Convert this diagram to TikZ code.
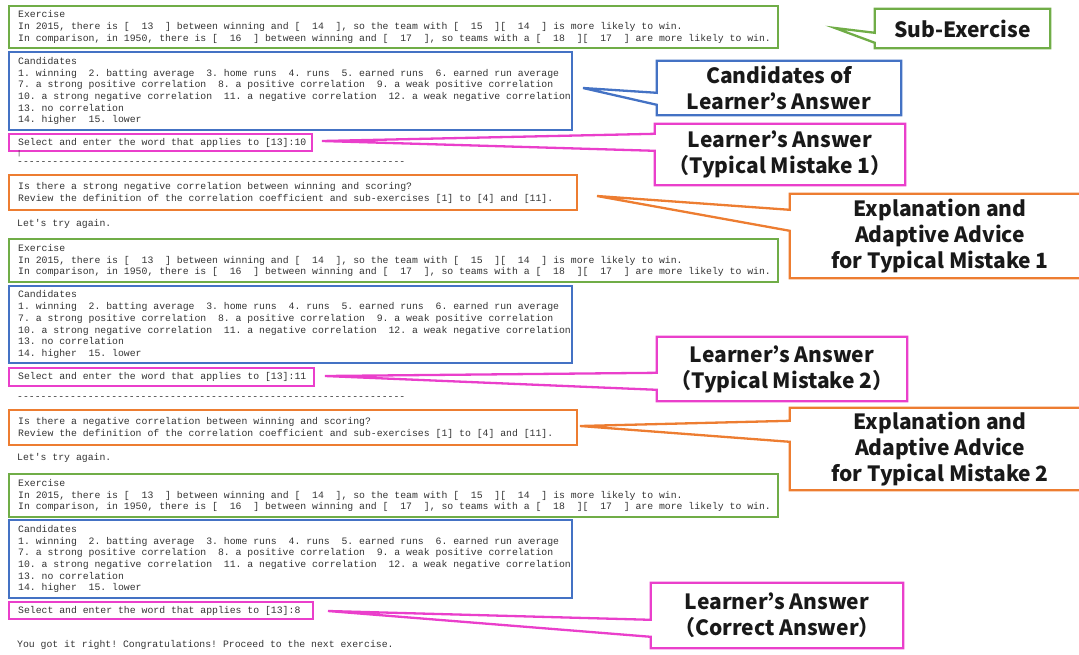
\documentclass[tikz,border=0pt]{standalone}
\usepackage{fontspec}
\usepackage{tikz}
\setmonofont{Liberation Mono}
\newfontfamily\callfont{Noto Sans CJK JP}
\definecolor{exgreen}{HTML}{70AD47}
\definecolor{candblue}{HTML}{4472C4}
\definecolor{ansmagenta}{HTML}{EA3FCB}
\definecolor{advorange}{HTML}{ED7D31}
\definecolor{scrtext}{HTML}{333333}
\tikzset{
  scrbox/.style={draw=#1, line width=2.3pt, anchor=north west, inner xsep=9pt, inner ysep=0pt,
    align=left, text=scrtext, font=\ttfamily\fontsize{9.8}{11.7}\selectfont,
    execute at begin node={\spaceskip=0pt\xspaceskip=0pt}},
  scrline/.style={anchor=west, inner sep=0pt, text=scrtext, font=\ttfamily\fontsize{9.8}{11.7}\selectfont},
  calltext/.style={inner sep=0pt, align=center, text=black!90,
    font=\callfont\bfseries\fontsize{21}{26}\selectfont},
  callline/.style={draw=#1, line width=2.3pt, line join=miter}
}

\begin{document}
\begin{tikzpicture}[x=1pt, y=-1pt]
  \useasboundingbox (0,0) rectangle (1079,654);
  \clip (0,0) rectangle (1079,654);
  % first try
  \node[scrbox=exgreen, text width=751pt, minimum height=42pt] (ex1) at (8,5)
    {Exercise\\\mbox{In 2015, there is [~~13~~] between winning and [~~14~~], so the team with [~~15~~][~~14~~] is more likely to win.}\\\mbox{In comparison, in 1950, there is [~~16~~] between winning and [~~17~~], so teams with a [~~18~~][~~17~~] are more likely to win.}};
  \node[scrbox=candblue, text width=545pt, minimum height=78pt] (cand1) at (8,51)
    {Candidates\\\mbox{1. winning~~2. batting average~~3. home runs~~4. runs~~5. earned runs~~6. earned run average}\\\mbox{7. a strong positive correlation~~8. a positive correlation~~9. a weak positive correlation}\\\mbox{10. a strong negative correlation~~11. a negative correlation~~12. a weak negative correlation}\\13. no correlation\\14. higher~~15. lower};
  \node[scrbox=ansmagenta, text width=285pt, minimum height=17pt] (ans1) at (8,133)
    {\mbox{Select and enter the word that applies to [13]:10}};
  \node[scrline, font=\ttfamily\fontsize{7}{8}\selectfont] (cursor1) at (17,154) {|};
  \node[scrline] (sep1) at (17,163.5) {------------------------------------------------------------------};
  \node[scrbox=advorange, text width=550pt, minimum height=35pt] (adv1) at (8,174)
    {\mbox{Is there a strong negative correlation between winning and scoring?}\\\mbox{Review the definition of the correlation coefficient and sub-exercises [1] to [4] and [11].}};
  \node[scrline] (retry1) at (17,224) {Let\textquotesingle s try again.};
  % second try
  \node[scrbox=exgreen, text width=751pt, minimum height=43pt] (ex2) at (8,238)
    {Exercise\\\mbox{In 2015, there is [~~13~~] between winning and [~~14~~], so the team with [~~15~~][~~14~~] is more likely to win.}\\\mbox{In comparison, in 1950, there is [~~16~~] between winning and [~~17~~], so teams with a [~~18~~][~~17~~] are more likely to win.}};
  \node[scrbox=candblue, text width=545pt, minimum height=77pt] (cand2) at (8,285)
    {Candidates\\\mbox{1. winning~~2. batting average~~3. home runs~~4. runs~~5. earned runs~~6. earned run average}\\\mbox{7. a strong positive correlation~~8. a positive correlation~~9. a weak positive correlation}\\\mbox{10. a strong negative correlation~~11. a negative correlation~~12. a weak negative correlation}\\13. no correlation\\14. higher~~15. lower};
  \node[scrbox=ansmagenta, text width=287pt, minimum height=18pt] (ans2) at (8,367)
    {\mbox{Select and enter the word that applies to [13]:11}};
  \node[scrline] (sep2) at (17,398) {------------------------------------------------------------------};
  \node[scrbox=advorange, text width=550pt, minimum height=35pt] (adv2) at (8,409)
    {\mbox{Is there a negative correlation between winning and scoring?}\\\mbox{Review the definition of the correlation coefficient and sub-exercises [1] to [4] and [11].}};
  \node[scrline] (retry2) at (17,458) {Let\textquotesingle s try again.};
  % third try
  \node[scrbox=exgreen, text width=751pt, minimum height=43pt] (ex3) at (8,473)
    {Exercise\\\mbox{In 2015, there is [~~13~~] between winning and [~~14~~], so the team with [~~15~~][~~14~~] is more likely to win.}\\\mbox{In comparison, in 1950, there is [~~16~~] between winning and [~~17~~], so teams with a [~~18~~][~~17~~] are more likely to win.}};
  \node[scrbox=candblue, text width=545pt, minimum height=78pt] (cand3) at (8,519)
    {Candidates\\\mbox{1. winning~~2. batting average~~3. home runs~~4. runs~~5. earned runs~~6. earned run average}\\\mbox{7. a strong positive correlation~~8. a positive correlation~~9. a weak positive correlation}\\\mbox{10. a strong negative correlation~~11. a negative correlation~~12. a weak negative correlation}\\13. no correlation\\14. higher~~15. lower};
  \node[scrbox=ansmagenta, text width=286pt, minimum height=17pt] (ans3) at (8,601)
    {\mbox{Select and enter the word that applies to [13]:8}};
  \node[scrline] (done) at (17,645) {You got it right! Congratulations! Proceed to the next exercise.};

  % callouts
  \node[calltext, minimum width=175pt, minimum height=39pt] (subex) at (962.5,28.5) {Sub-Exercise};
  \coordinate (subextip) at (835,28);
  \draw[callline=exgreen] (subex.north west) -- (subex.north east) -- (subex.south east) -- (subex.south west)
    -- ([yshift=-34pt]subex.north west) -- (subextip) -- ([yshift=-24pt]subex.north west) -- cycle;

  \node[calltext, minimum width=244pt, minimum height=54pt] (candcall) at (779,88) {Candidates of\\Learner’s Answer};
  \coordinate (candtip) at (583,88);
  \draw[callline=candblue] (candcall.north west) -- (candcall.north east) -- (candcall.south east) -- (candcall.south west)
    -- ([yshift=-44pt]candcall.north west) -- (candtip) -- ([yshift=-32pt]candcall.north west) -- cycle;

  \node[calltext, minimum width=250pt, minimum height=61pt] (mis1) at (780,154.5) {Learner’s Answer\\（Typical Mistake 1）};
  \coordinate (mis1tip) at (322,141);
  \draw[callline=ansmagenta] (mis1.north west) -- (mis1.north east) -- (mis1.south east) -- (mis1.south west)
    -- ([yshift=-27pt]mis1.north west) -- (mis1tip) -- ([yshift=-10pt]mis1.north west) -- cycle;

  \node[calltext, minimum width=300pt, minimum height=84pt] (adv1call) at (940,236) {Explanation and\\Adaptive Advice\\for Typical Mistake 1};
  \coordinate (adv1tip) at (597,196);
  \draw[callline=advorange] (adv1call.north west) -- (adv1call.north east) -- (adv1call.south east) -- (adv1call.south west)
    -- ([yshift=-37pt]adv1call.north west) -- (adv1tip) -- ([yshift=-16pt]adv1call.north west) -- cycle;

  \node[calltext, minimum width=250pt, minimum height=64pt] (mis2) at (782,369) {Learner’s Answer\\（Typical Mistake 2）};
  \coordinate (mis2tip) at (325,376);
  \draw[callline=ansmagenta] (mis2.north west) -- (mis2.north east) -- (mis2.south east) -- (mis2.south west)
    -- ([yshift=-53pt]mis2.north west) -- (mis2tip) -- ([yshift=-36pt]mis2.north west) -- cycle;

  \node[calltext, minimum width=300pt, minimum height=82pt] (adv2call) at (940,449) {Explanation and\\Adaptive Advice\\for Typical Mistake 2};
  \coordinate (adv2tip) at (580,426);
  \draw[callline=advorange] (adv2call.north west) -- (adv2call.north east) -- (adv2call.south east) -- (adv2call.south west)
    -- ([yshift=-34pt]adv2call.north west) -- (adv2tip) -- ([yshift=-13pt]adv2call.north west) -- cycle;

  \node[calltext, minimum width=252pt, minimum height=65pt] (corr) at (777,615.5) {Learner’s Answer\\（Correct Answer）};
  \coordinate (corrtip) at (328,611);
  \draw[callline=ansmagenta] (corr.north west) -- (corr.north east) -- (corr.south east) -- (corr.south west)
    -- ([yshift=-54pt]corr.north west) -- (corrtip) -- ([yshift=-37pt]corr.north west) -- cycle;
\end{tikzpicture}
\end{document}
